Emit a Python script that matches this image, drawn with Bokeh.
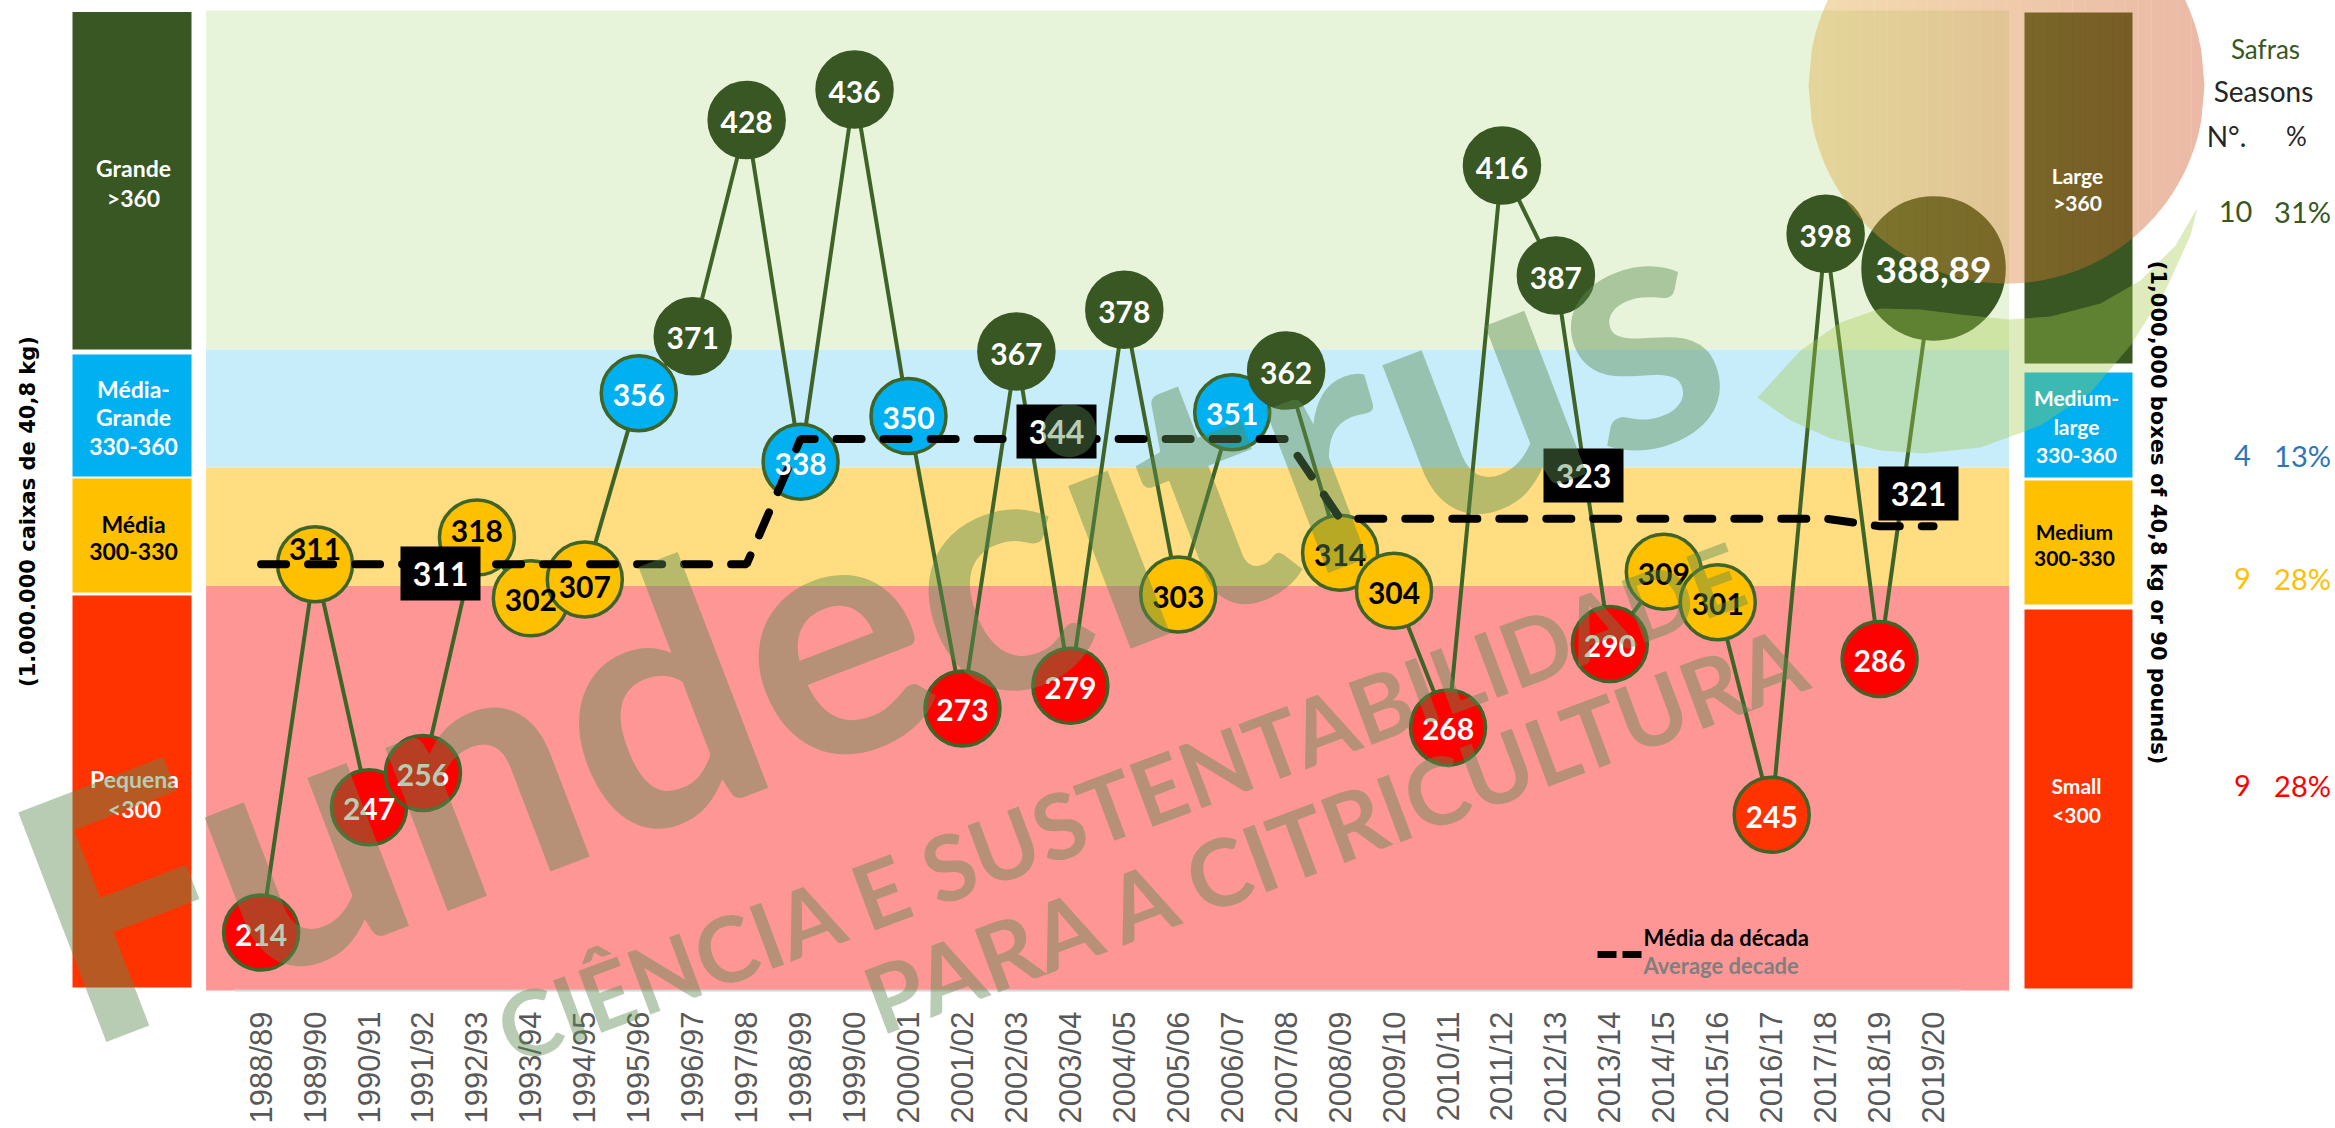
from math import pi, radians, sqrt
from bokeh.plotting import figure
from bokeh.models import Label, FixedTicker, Range1d
from bokeh.embed import file_html
from bokeh.resources import INLINE

# ---------- data ----------
seasons = ["1988/89","1989/90","1990/91","1991/92","1992/93","1993/94","1994/95","1995/96",
           "1996/97","1997/98","1998/99","1999/00","2000/01","2001/02","2002/03","2003/04",
           "2004/05","2005/06","2006/07","2007/08","2008/09","2009/10","2010/11","2011/12",
           "2012/13","2013/14","2014/15","2015/16","2016/17","2017/18","2018/19","2019/20"]
production = [214,311,247,256,318,302,307,356,371,428,338,436,350,273,367,279,
              378,303,351,362,314,304,268,416,387,290,309,301,245,398,286,388.89]
point_labels = ["214","311","247","256","318","302","307","356","371","428","338","436","350","273","367","279",
                "378","303","351","362","314","304","268","416","387","290","309","301","245","398","286","388,89"]
decade_mean = [311]*10 + [344]*10 + [323]*10 + [321]*2
decade_labels = ["311","344","323","321"]
class_limits = [300, 330, 360]
class_counts = [("10","31%"),("4","13%"),("9","28%"),("9","28%")]

# ---------- page-pixel layout ----------
W, H = 2335, 1128
X0, DX = 260.6, 53.95      # page x of first season, px per season
Y0, DY = 932.0, 3.797      # page y of value 214, px per unit

def X(px): return (px - X0) / DX
def Y(py): return 214 + (Y0 - py) / DY

p = figure(width=W, height=H, output_backend="svg", toolbar_location=None,
           x_range=Range1d(X(0), X(W)), y_range=Range1d(Y(H), Y(0)),
           min_border=0, background_fill_color="white",
           border_fill_color="white", outline_line_color=None)
p.grid.visible = False
p.yaxis.visible = False
ax = p.xaxis[0]
ax.fixed_location = Y(990)
ax.ticker = FixedTicker(ticks=list(range(len(seasons))))
ax.major_label_overrides = {i: s for i, s in enumerate(seasons)}
ax.major_label_orientation = pi / 2
ax.major_label_text_font = "Liberation Sans"
ax.major_label_text_font_size = "31px"
ax.major_label_text_color = "#595959"
ax.major_label_standoff = 21
ax.major_tick_line_color = None
ax.major_tick_out = 0
ax.minor_tick_line_color = None
ax.axis_line_color = "#d4d4d4"
ax.axis_line_width = 2
ax.bounds = (-0.5, 31.5)

def block(x1, x2, y1, y2, color):
    p.quad(left=X(x1), right=X(x2), top=Y(y1), bottom=Y(y2), fill_color=color, line_color=None)

# background bands
for y1, y2, c in [(10, 349, "#e8f4da"), (349, 467, "#c7edfb"), (467, 585.5, "#ffdd80"), (585.5, 990, "#ff9696")]:
    block(205.6, 2008.5, y1, y2, c)
# left panel
for y1, y2, c in [(11.5, 349, "#385723"), (354, 476, "#00b0f0"), (478, 592, "#ffc000"), (595, 987, "#ff3300")]:
    block(72, 191, y1, y2, c)
# right panel
for y1, y2, c in [(12, 363, "#385723"), (372, 477, "#00b0f0"), (480, 604, "#ffc000"), (609, 988, "#ff3300")]:
    block(2024, 2132, y1, y2, c)

# production line
xs = list(range(len(seasons)))
p.line(xs, production, line_color="#3f6428", line_width=4)

def fill_of(i, v):
    if v >= class_limits[2]: return "#385723"
    if v >= class_limits[1]: return "#00b0f0"
    if v >= class_limits[0]: return "#ffc000"
    return "#ff3300" if seasons[i] == "2016/17" else "#ff0000"

fills = [fill_of(i, v) for i, v in enumerate(production)]
sizes = [141 if i == len(production) - 1 else 75 for i in xs]
lines = ["#385723" if v >= class_limits[2] else "#3f6428" for v in production]
p.scatter(xs, production, size=sizes, fill_color=fills, line_color=lines, line_width=3.5)

def put(text, px, py, size, color="white", style="normal", font="Lato", angle=0.0,
        align="center", baseline="middle", alpha=1.0):
    p.add_layout(Label(x=X(px), y=Y(py), text=text, text_font=font, text_font_size=f"{size}px",
                       text_color=color, text_font_style=style, angle=angle, angle_units="rad",
                       text_align=align, text_baseline=baseline, text_alpha=alpha))

# point labels
label_dy = {1: -17, 4: -9, 6: 6}
for i, (v, t) in enumerate(zip(production, point_labels)):
    col = "black" if class_limits[0] <= v < class_limits[1] else "white"
    py = Y0 - (v - 214) * DY + 2 + label_dy.get(i, 0)
    put(t, X0 + i * DX, py, 37 if i == len(production) - 1 else 30, col, "bold")

# decade average
p.line(xs, decade_mean, line_color="black", line_width=8, line_dash="25 22", line_cap="round")

# decade boxes
for t, cx, cy in zip(decade_labels, [440, 1056, 1583, 1918], [573, 431, 475, 493]):
    block(cx - 40, cx + 40, cy - 27, cy + 27, "black")
    put(t, cx, cy, 32, "white", "bold")

# legend
p.line([X(1597), X(1641)], [Y(954), Y(954)], line_color="black", line_width=7, line_dash="19 6")
put("Média da década", 1643, 937, 22, "black", "bold", align="left")
put("Average decade", 1643, 965, 22, "#7f7f7f", "bold", align="left")

# axis titles
put("(1.000.000 caixas de 40,8 kg)", 27, 511, 21, "black", "bold", "DejaVu Sans", pi / 2)
put("(1,000,000 boxes of 40,8 kg or 90 pounds)", 2157, 512, 21, "black", "bold", "DejaVu Sans", -pi / 2)

# panel texts
for t, x, y, c in [("Grande", 133, 167, "white"), (">360", 133, 197, "white"),
                   ("Média-", 133, 388, "white"), ("Grande", 133, 416, "white"), ("330-360", 133, 446, "white"),
                   ("Média", 133, 523, "black"), ("300-330", 133, 551, "black"),
                   ("Pequena", 134, 778, "white"), ("<300", 134, 808, "white")]:
    put(t, x, y, 23, c, "bold")
for t, x, y, c in [("Large", 2077, 175, "white"), (">360", 2077, 202, "white"),
                   ("Medium-", 2076, 397, "white"), ("large", 2076, 426, "white"), ("330-360", 2076, 455, "white"),
                   ("Medium", 2074, 531, "black"), ("300-330", 2074, 558, "black"),
                   ("Small", 2076, 785, "white"), ("<300", 2076, 814, "white")]:
    put(t, x, y, 21, c, "bold")

# right table
put("Safras", 2265, 48, 26, "#385723")
put("Seasons", 2263, 90, 28, "#262626")
put("N°.", 2226, 135, 28, "#262626")
put("%", 2296, 135, 26, "#262626")
row_y = [211, 455, 578, 785]
row_c = ["#385723", "#2e75b6", "#ffc000", "#ff0000"]
row_x = [2235, 2242, 2242, 2242]
for (n, pct), y, c, x in zip(class_counts, row_y, row_c, row_x):
    put(n, x, y, 29, c)
    put(pct, 2302, y, 29, c)

# logo overlay: sun drawn as vertical slices to reproduce its left-to-right gradient
cx, cy, r = 2006, 85, 198
N = 30
for k in range(N):
    a, b = cx - r + 2 * r * k / N, cx - r + 2 * r * (k + 1) / N
    t = (k + 0.5) / N
    col = "#%02x%02x%02x" % (round(224 + (207 - 224) * t), round(171 + (85 - 171) * t), round(63 + (37 - 63) * t))
    steps = [a + (b - a) * j / 4 for j in range(5)]
    up = [cy - sqrt(max(r * r - (s - cx) ** 2, 0)) for s in steps]
    dn = [cy + sqrt(max(r * r - (s - cx) ** 2, 0)) for s in steps]
    px = steps + steps[::-1]
    py = up + dn[::-1]
    p.patch([X(v) for v in px], [Y(v) for v in py], fill_color=col, fill_alpha=0.41, line_color=None, level="annotation")

leaf_px = [(2197,207),(2175,245),(2140,280),(2100,303),(2050,316),(2008,319),(1960,314),(1920,309),
           (1880,308),(1840,322),(1800,350),(1757,397),(1790,420),(1830,438),(1880,450),(1923,453),
           (1980,447),(2040,425),(2090,392),(2130,345),(2165,290),(2190,235)]
p.patch([X(a) for a, b in leaf_px], [Y(b) for a, b in leaf_px], fill_color="#a2c84b", fill_alpha=0.37,
        line_color=None, level="annotation")

# watermark
WM = "#5b8b50"; WA = 0.44
put("Fundecitrus", 33, 928, 340, WM, "bold", angle=radians(21), align="left", baseline="alphabetic", alpha=WA)
put("CIÊNCIA E SUSTENTABILIDADE", 500, 1032, 91, WM, "bold", angle=radians(20.5), align="left", baseline="alphabetic", alpha=WA)
put("PARA A CITRICULTURA", 868, 1002, 93, WM, "bold", angle=radians(20.5), align="left", baseline="alphabetic", alpha=WA)

open("out.html", "w").write(file_html(p, INLINE))
